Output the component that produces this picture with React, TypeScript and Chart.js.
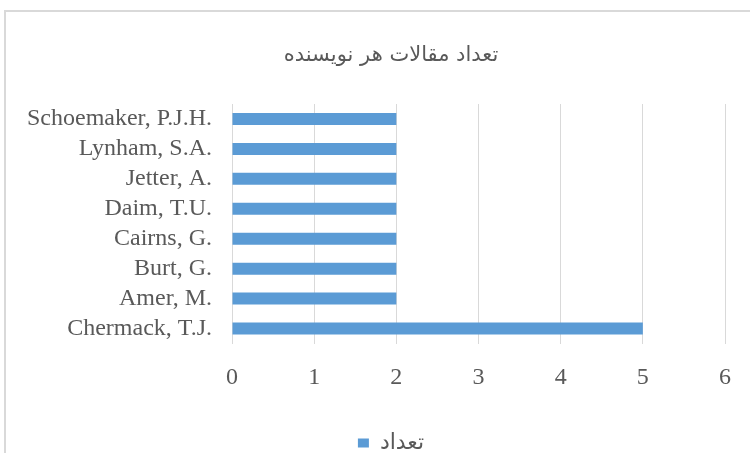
import React, { useEffect, useRef } from "react";
import { Chart, registerables } from "chart.js";

Chart.register(...registerables);

const categories = [
  "Schoemaker, P.J.H.",
  "Lynham, S.A.",
  "Jetter, A.",
  "Daim, T.U.",
  "Cairns, G.",
  "Burt, G.",
  "Amer, M.",
  "Chermack, T.J.",
];
const counts = [2, 2, 2, 2, 2, 2, 2, 5];
const seriesName = "تعداد";
const chartTitle = "تعداد مقالات هر نویسنده";
const xMin = 0;
const xMax = 6;
const xStep = 1;

const GRAY_TEXT = "#595959";
const GRID = "#d9d9d9";
const BAR = "#5b9bd5";

// let the category labels extend left of the axis box without being clipped
const labelAreaFix = {
  id: "labelAreaFix",
  afterLayout(chart: any) {
    if (chart.scales.y) chart.scales.y.left = 0;
  },
};

export default function App() {
  const ref = useRef<HTMLCanvasElement | null>(null);

  useEffect(() => {
    if (!ref.current) return;
    const chart = new Chart(ref.current, {
      type: "bar",
      data: {
        labels: categories,
        datasets: [
          {
            label: seriesName,
            data: counts,
            backgroundColor: BAR,
            borderWidth: 0,
            categoryPercentage: 1,
            barPercentage: 0.4,
          },
        ],
      },
      plugins: [labelAreaFix],
      options: {
        indexAxis: "y",
        animation: false,
        responsive: false,
        layout: { padding: { left: 51, right: 47, top: 0, bottom: 5 } },
        plugins: {
          title: {
            display: true,
            text: chartTitle,
            color: GRAY_TEXT,
            font: { family: "DejaVu Sans", size: 21, weight: "normal" },
            padding: { top: 31, bottom: 35.8 },
          },
          legend: {
            position: "bottom",
            labels: {
              boxWidth: 11,
              boxHeight: 9,
              color: GRAY_TEXT,
              font: { family: "DejaVu Sans", size: 22 },
              padding: 10,
            },
          },
          tooltip: { enabled: false },
        },
        scales: {
          x: {
            min: xMin,
            max: xMax,
            ticks: {
              stepSize: xStep,
              padding: 20,
              color: GRAY_TEXT,
              font: { family: "Liberation Serif", size: 24 },
            },
            grid: { color: GRID, lineWidth: 1, drawTicks: false },
            border: { display: false },
            afterFit: (s: any) => {
              s.height = 78.5;
            },
          },
          y: {
            grid: { display: false },
            border: { display: false },
            ticks: {
              autoSkip: false,
              padding: 12,
              color: GRAY_TEXT,
              font: { family: "Liberation Serif", size: 24 },
            },
            afterFit: (s: any) => {
              s.width = 175;
            },
          },
        },
      },
    });
    return () => chart.destroy();
  }, []);

  return (
    <div
      style={{
        position: "fixed",
        left: 0,
        top: 0,
        width: 750,
        height: 453,
        overflow: "hidden",
        background: "#fff",
      }}
    >
      <div
        style={{
          position: "absolute",
          left: 4,
          top: 10,
          width: 770,
          height: 461,
          border: `2px solid ${GRID}`,
          boxSizing: "border-box",
        }}
      >
        <canvas ref={ref} width={766} height={457} style={{ display: "block" }} />
      </div>
    </div>
  );
}
